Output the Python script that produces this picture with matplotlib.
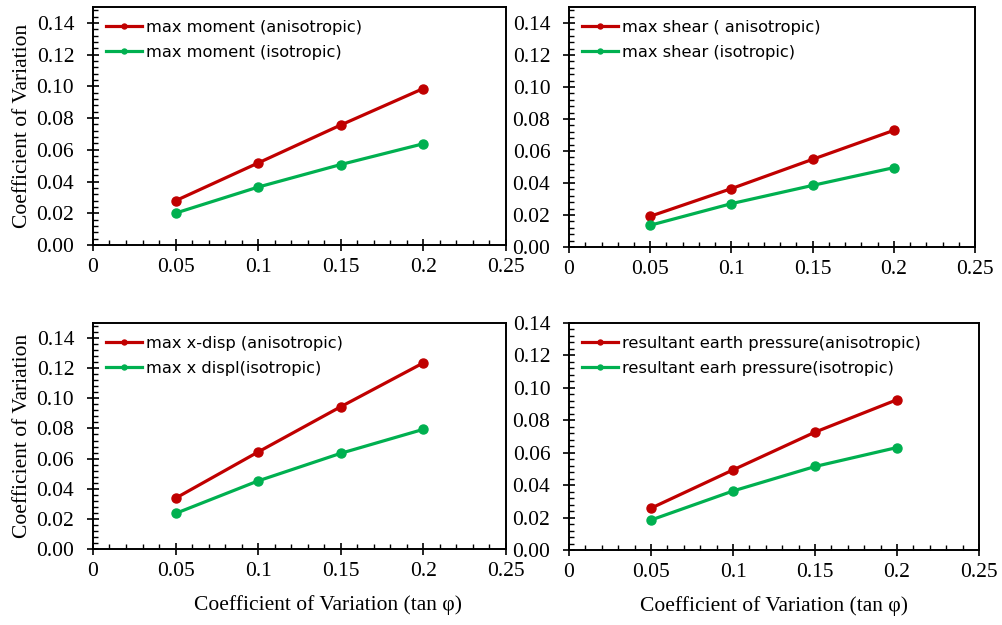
import matplotlib
matplotlib.use("Agg")
import matplotlib.pyplot as plt
from matplotlib.ticker import MultipleLocator, FuncFormatter

# Coefficient of variation of tan(phi)
cov_tanphi = [0.05, 0.10, 0.15, 0.20]

moment_aniso = [0.0279, 0.0517, 0.0756, 0.0986]
moment_iso = [0.0201, 0.0365, 0.0507, 0.0638]

shear_aniso = [0.0192, 0.0365, 0.0548, 0.0729]
shear_iso = [0.0136, 0.0271, 0.0385, 0.0496]

xdisp_aniso = [0.0337, 0.0644, 0.0944, 0.1235]
xdisp_iso = [0.0236, 0.0452, 0.0635, 0.0794]

pressure_aniso = [0.0258, 0.0494, 0.0727, 0.0927]
pressure_iso = [0.0185, 0.0364, 0.0515, 0.0632]

labels = [
    ("max moment (anisotropic)", "max moment (isotropic)"),
    ("max shear ( anisotropic)", "max shear (isotropic)"),
    ("max x-disp (anisotropic)", "max x displ(isotropic)"),
    ("resultant earth pressure(anisotropic)", "resultant earh pressure(isotropic)"),
]

RED = "#C00000"
GREEN = "#00B050"
SERIF = "Liberation Serif"

fig = plt.figure(figsize=(10.02, 6.25), dpi=100)

panels = [
    ([0.0928, 0.608, 0.412, 0.3808], moment_aniso, moment_iso, 0.15, True, False),
    ([0.5679, 0.6048, 0.4052, 0.384], shear_aniso, shear_iso, 0.15, False, False),
    ([0.0928, 0.1216, 0.412, 0.3616], xdisp_aniso, xdisp_iso, 0.15, True, True),
    ([0.5679, 0.12, 0.4092, 0.3632], pressure_aniso, pressure_iso, 0.14, False, True),
]

xfmt = FuncFormatter(lambda v, p: "0" if abs(v) < 1e-9 else f"{v:g}")

for i, (rect, aniso, iso, ytop, ylab, xlab) in enumerate(panels):
    ax = fig.add_axes(rect)
    ax.plot(cov_tanphi, aniso, color=RED, lw=2.3, marker="o", ms=6.5,
            label=labels[i][0])
    ax.plot(cov_tanphi, iso, color=GREEN, lw=2.3, marker="o", ms=6.5,
            label=labels[i][1])

    ax.set_xlim(0, 0.25)
    ax.set_ylim(0, ytop)
    ax.xaxis.set_major_locator(MultipleLocator(0.05))
    ax.xaxis.set_minor_locator(MultipleLocator(0.01))
    ax.yaxis.set_major_locator(MultipleLocator(0.02))
    ax.yaxis.set_minor_locator(MultipleLocator(0.004))
    ax.xaxis.set_major_formatter(xfmt)
    ax.yaxis.set_major_formatter(FuncFormatter(lambda v, p: f"{v:.2f}"))

    ax.tick_params(which="major", direction="inout", length=9, width=1.2,
                   labelsize=15.5)
    ax.tick_params(axis="x", which="major", pad=5)
    ax.tick_params(axis="y", which="major", pad=9)
    ax.tick_params(which="minor", direction="in", length=3.6, width=1.0)
    for lbl in ax.get_xticklabels() + ax.get_yticklabels():
        lbl.set_fontfamily(SERIF)
    for sp in ax.spines.values():
        sp.set_linewidth(1.4)

    if ylab:
        ax.set_ylabel("Coefficient of Variation", fontfamily=SERIF,
                      fontsize=15.5, labelpad=3)
    if xlab:
        ax.set_xlabel("Coefficient of Variation (tan \u03c6)", fontfamily=SERIF,
                      fontsize=15.5)
        if i == 2:
            ax.xaxis.set_label_coords(0.569, -0.205)
        else:
            ax.xaxis.set_label_coords(0.5, -0.205)

    ax.legend(loc="upper left", frameon=False, prop={"family": "DejaVu Sans", "size": 11.7},
              handlelength=2.2, handletextpad=0.25, markerscale=0.55,
              labelspacing=0.6, borderaxespad=0.4)

fig.savefig("out.png", dpi=100)
